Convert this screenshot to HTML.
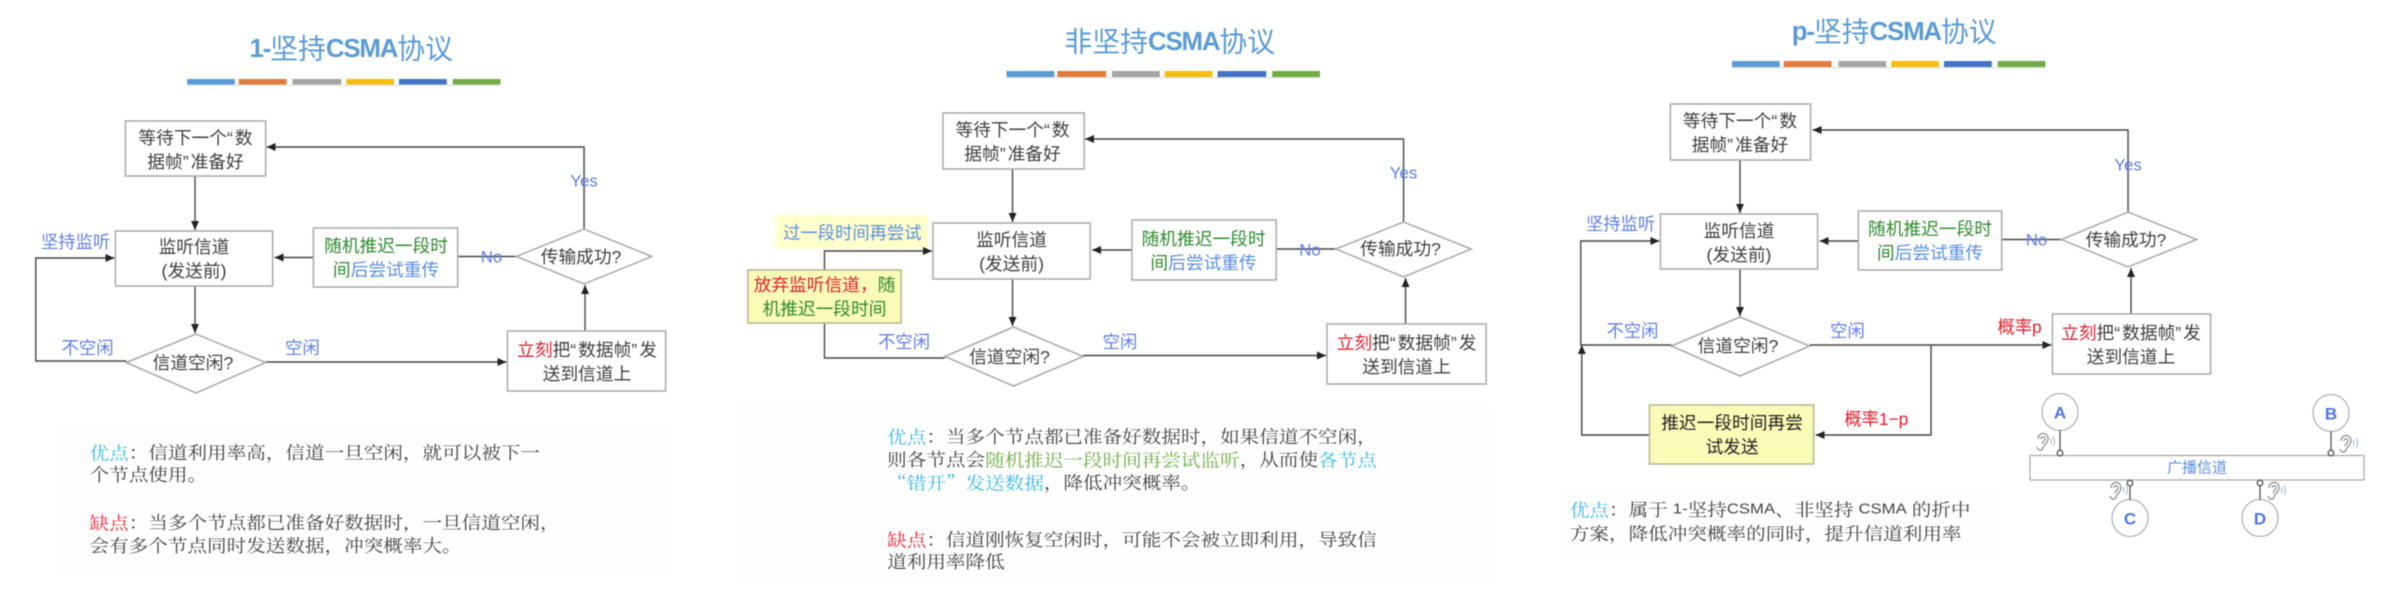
<!DOCTYPE html>
<html lang="zh"><head><meta charset="utf-8"><title>CSMA</title>
<style>
html,body{margin:0;padding:0;background:#fff;width:2407px;height:616px;overflow:hidden}
svg{display:block;filter:blur(.45px)}
text{font-family:"Liberation Sans","Noto Sans CJK SC",sans-serif;dominant-baseline:central}
.t{font-size:17.8px;fill:#3f3f3f;text-anchor:middle}
.q{letter-spacing:2px}
.l{font-size:17.4px;fill:#5f7fe6;text-anchor:middle}
.e{font-size:17px;fill:#5f7fe6;text-anchor:middle}
.r{font-size:17.4px;fill:#e0202c;text-anchor:middle}
.h{font-size:28px;fill:#5b9bd5;text-anchor:middle}
.h tspan{font-weight:bold;font-size:26px;letter-spacing:-1.2px}
.p{font-family:"Noto Serif CJK SC","Liberation Serif",serif;font-size:19.7px;fill:#444}
.p .s{font-family:"Liberation Sans",sans-serif;font-size:16.8px}
.b{fill:#fff;stroke:#a9a9a9;stroke-width:1.5}
.y{fill:#fbfbb8;stroke:#b5b58c;stroke-width:1.5}
.c{fill:none;stroke:#444;stroke-width:1.4}
.g{fill:#2f8a2f}.u{fill:#5b8fe0}.d{fill:#dc2433}
.cy{fill:#3db8ea}.rd{fill:#ee2c3c}.gr{fill:#70ad47}
.n{font-size:17px;font-weight:bold;fill:#4f74ee;text-anchor:middle}
</style></head><body>
<svg width="2407" height="616" viewBox="0 0 2407 616" xmlns="http://www.w3.org/2000/svg">
<defs>
<marker id="a" markerUnits="userSpaceOnUse" markerWidth="10" markerHeight="10" refX="9" refY="5" orient="auto"><path d="M0,1 L9,5 L0,9 Z" fill="#222"/></marker>
<g id="ear"><path d="M-4,-2 C-4,-9 6,-10 6,-2 C6,2 2,3 1,7 C0,10 -4,10 -5,6 M-1,-2 C-1,-5 3,-5 3,-2 C3,0 0,1 0,3" fill="none" stroke="#8a8a8a" stroke-width="1.2"/><path d="M8,-3 Q10,0 8,3 M11,-5 Q14,0 11,5" fill="none" stroke="#9db4c8" stroke-width="1"/></g>
</defs>
<rect width="2407" height="616" fill="#fff"/>
<rect x="60" y="425" width="610" height="150" fill="#fefefe"/>
<rect x="735" y="405" width="760" height="175" fill="#fefefe"/>
<rect x="1560" y="490" width="440" height="65" fill="#fefefe"/>

<!-- Panel 1 -->
<g transform="scale(.995,1)">
<text class="h" x="353" y="49"><tspan>1-</tspan>坚持<tspan>CSMA</tspan>协议</text>
<g>
<rect x="188" y="79" width="48" height="5.5" fill="#5b9bd5"/><rect x="240" y="79" width="48" height="5.5" fill="#e07b39"/><rect x="294" y="79" width="49" height="5.5" fill="#a5a5a5"/><rect x="348" y="79" width="48" height="5.5" fill="#f5bd10"/><rect x="401" y="79" width="48" height="5.5" fill="#4472c4"/><rect x="455" y="79" width="48" height="5.5" fill="#70ad47"/>
<rect x="188" y="84.5" width="315" height="1.5" fill="#e4e4e4"/>
</g>
<path class="c" d="M196,176 V230" marker-end="url(#a)"/>
<path class="c" d="M196,286 V333" marker-end="url(#a)"/>
<path class="c" d="M587,229 V147 H268" marker-end="url(#a)"/>
<path class="c" d="M127,361 H36 V258 H115" marker-end="url(#a)"/>
<path class="c" d="M267,362 H509" marker-end="url(#a)"/>
<path class="c" d="M588,331 V285" marker-end="url(#a)"/>
<path class="c" d="M315,257.5 H276" marker-end="url(#a)"/>
<path class="c" d="M460,256.5 H519"/>
<rect class="b" x="126" y="121" width="141" height="55"/>
<rect class="b" x="116" y="231" width="158" height="55"/>
<rect class="b" x="315" y="228" width="145" height="59"/>
<rect class="b" x="510" y="331" width="159" height="60"/>
<polygon class="b" points="519,256.5 587,229 655,256.5 587,284"/>
<polygon class="b" points="127,362.5 197,334 267,362.5 197,393"/>
<text class="t" x="196.5" y="138">等待下一个<tspan class="q">“</tspan>数</text><text class="t" x="196.5" y="162">据帧<tspan class="q">”</tspan>准备好</text>
<text class="t" x="195" y="247">监听信道</text><text class="t" x="195" y="271">(发送前)</text>
<text class="t g" x="388" y="246">随机推迟一段时</text><text class="t g" x="388" y="270">间<tspan class="u">后尝试重传</tspan></text>
<text class="t" x="590" y="350"><tspan class="d">立刻</tspan>把<tspan class="q">“</tspan>数据帧<tspan class="q">”</tspan>发</text><text class="t" x="590" y="374">送到信道上</text>
<text class="t" x="584" y="257">传输成功?</text>
<text class="t" x="194" y="363">信道空闲?</text>
<text class="l" x="76" y="242">坚持监听</text>
<text class="l" x="88" y="348">不空闲</text>
<text class="l" x="304" y="348">空闲</text>
<text class="e" x="494" y="257">No</text>
<text class="e" x="587" y="181">Yes</text>
<text class="p" transform="translate(90,452) scale(1,.9)"><tspan class="cy">优点</tspan>：信道利用率高，信道一旦空闲，就可以被下一</text>
<text class="p" transform="translate(90,474) scale(1,.9)">个节点使用。</text>
<text class="p" transform="translate(90,522) scale(1,.9)"><tspan class="rd">缺点</tspan>：当多个节点都已准备好数据时，一旦信道空闲，</text>
<text class="p" transform="translate(90,545) scale(1,.9)">会有多个节点同时发送数据，冲突概率大。</text>
</g>

<!-- Panel 2 -->
<g transform="translate(720,0) scale(.995,1) translate(-720,0)">
<text class="h" x="1172" y="42">非坚持<tspan>CSMA</tspan>协议</text>
<g>
<rect x="1008" y="71" width="48" height="6" fill="#5b9bd5"/><rect x="1059" y="71" width="49" height="6" fill="#e07b39"/><rect x="1114" y="71" width="48" height="6" fill="#a5a5a5"/><rect x="1167" y="71" width="48" height="6" fill="#f5bd10"/><rect x="1220" y="71" width="49" height="6" fill="#4472c4"/><rect x="1275" y="71" width="48" height="6" fill="#70ad47"/>
<rect x="1008" y="77" width="315" height="1.5" fill="#e4e4e4"/>
</g>
<rect x="776" y="215" width="153" height="34" fill="#ffffcc"/>
<path class="c" d="M1014,169 V222" marker-end="url(#a)"/>
<path class="c" d="M1014,279 V326" marker-end="url(#a)"/>
<path class="c" d="M1407,222 V139 H1087" marker-end="url(#a)"/>
<path class="c" d="M825,270 V251 H933" marker-end="url(#a)"/>
<path class="c" d="M825,323 V358 H946"/>
<path class="c" d="M1085,355.5 H1329" marker-end="url(#a)"/>
<path class="c" d="M1409,324 V278" marker-end="url(#a)"/>
<path class="c" d="M1134,250 H1094" marker-end="url(#a)"/>
<path class="c" d="M1279,249 H1339"/>
<rect class="b" x="944" y="113" width="142" height="56"/>
<rect class="b" x="934" y="223" width="158" height="56"/>
<rect class="b" x="1134" y="220" width="145" height="60"/>
<rect class="b" x="1330" y="324" width="160" height="60"/>
<rect class="y" x="748" y="270" width="154" height="53"/>
<polygon class="b" points="1339,249 1407,222 1475,249 1407,277"/>
<polygon class="b" points="946,356.5 1015,327 1085,356.5 1015,386"/>
<text class="t" x="1014" y="130">等待下一个<tspan class="q">“</tspan>数</text><text class="t" x="1014" y="154">据帧<tspan class="q">”</tspan>准备好</text>
<text class="t" x="1013" y="240">监听信道</text><text class="t" x="1013" y="264">(发送前)</text>
<text class="t g" x="1206" y="239">随机推迟一段时</text><text class="t g" x="1206" y="263">间<tspan class="u">后尝试重传</tspan></text>
<text class="t" x="1410" y="343"><tspan class="d">立刻</tspan>把<tspan class="q">“</tspan>数据帧<tspan class="q">”</tspan>发</text><text class="t" x="1410" y="367">送到信道上</text>
<text class="t" x="1404" y="249">传输成功?</text>
<text class="t" x="1011" y="357">信道空闲?</text>
<text class="t d" x="825" y="285">放弃监听信道，<tspan class="g">随</tspan></text>
<text class="t g" x="825" y="309">机推迟一段时间</text>
<text class="l" x="853" y="233" style="fill:#5b8fe0">过一段时间再尝试</text>
<text class="l" x="905" y="342">不空闲</text>
<text class="l" x="1122" y="342">空闲</text>
<text class="e" x="1313" y="250">No</text>
<text class="e" x="1407" y="173">Yes</text>
<text class="p" transform="translate(888,436) scale(1,.9)"><tspan class="cy">优点</tspan>：当多个节点都已准备好数据时，如果信道不空闲，</text>
<text class="p" transform="translate(888,459) scale(1,.9)">则各节点会<tspan class="gr">随机推迟一段时间再尝试监听</tspan>，从而使<tspan class="cy">各节点</tspan></text>
<text class="p" transform="translate(888,482) scale(1,.9)"><tspan class="cy">“错开”发送数据</tspan>，降低冲突概率。</text>
<text class="p" transform="translate(888,539) scale(1,.9)"><tspan class="rd">缺点</tspan>：信道刚恢复空闲时，可能不会被立即利用，导致信</text>
<text class="p" transform="translate(888,561) scale(1,.9)">道利用率降低</text>
</g>

<!-- Panel 3 -->
<g transform="translate(1540,0) scale(.995,1) translate(-1540,0)">
<text class="h" x="1896" y="32"><tspan>p-</tspan>坚持<tspan>CSMA</tspan>协议</text>
<g>
<rect x="1733" y="61" width="48" height="6" fill="#5b9bd5"/><rect x="1785" y="61" width="48" height="6" fill="#e07b39"/><rect x="1840" y="61" width="48" height="6" fill="#a5a5a5"/><rect x="1893" y="61" width="48" height="6" fill="#f5bd10"/><rect x="1946" y="61" width="48" height="6" fill="#4472c4"/><rect x="2000" y="61" width="48" height="6" fill="#70ad47"/>
<rect x="1733" y="67" width="315" height="1.5" fill="#e4e4e4"/>
</g>
<path class="c" d="M1741,160 V213" marker-end="url(#a)"/>
<path class="c" d="M1741,269 V316" marker-end="url(#a)"/>
<path class="c" d="M2131,212 V130 H1814" marker-end="url(#a)"/>
<path class="c" d="M1672,345 H1581 V241 H1660" marker-end="url(#a)"/>
<path class="c" d="M1650,435 H1582 V345" marker-end="url(#a)"/>
<path class="c" d="M1811,345 H2054" marker-end="url(#a)"/>
<path class="c" d="M1933,345 V435 H1817" marker-end="url(#a)"/>
<path class="c" d="M2134,314 V268" marker-end="url(#a)"/>
<path class="c" d="M1860,241 H1821" marker-end="url(#a)"/>
<path class="c" d="M2004,239.5 H2064"/>
<rect class="b" x="1671" y="104" width="141" height="56"/>
<rect class="b" x="1661" y="214" width="158" height="55"/>
<rect class="b" x="1860" y="211" width="144" height="59"/>
<rect class="b" x="2055" y="314" width="159" height="60"/>
<rect class="y" x="1650" y="405" width="165" height="59"/>
<polygon class="b" points="2064,239.5 2131,212 2200,239.5 2131,267"/>
<polygon class="b" points="1672,346 1741,317 1811,346 1741,376"/>
<text class="t" x="1741" y="121">等待下一个<tspan class="q">“</tspan>数</text><text class="t" x="1741" y="145">据帧<tspan class="q">”</tspan>准备好</text>
<text class="t" x="1740" y="231">监听信道</text><text class="t" x="1740" y="255">(发送前)</text>
<text class="t g" x="1932" y="229">随机推迟一段时</text><text class="t g" x="1932" y="253">间<tspan class="u">后尝试重传</tspan></text>
<text class="t" x="2134" y="333"><tspan class="d">立刻</tspan>把<tspan class="q">“</tspan>数据帧<tspan class="q">”</tspan>发</text><text class="t" x="2134" y="357">送到信道上</text>
<text class="t" x="2129" y="240">传输成功?</text>
<text class="t" x="1739" y="346">信道空闲?</text>
<text class="t" x="1733" y="423" style="fill:#222">推迟一段时间再尝</text><text class="t" x="1733" y="447" style="fill:#222">试发送</text>
<text class="l" x="1621" y="224">坚持监听</text>
<text class="l" x="1633" y="331">不空闲</text>
<text class="l" x="1849" y="331">空闲</text>
<text class="r" x="2022" y="327">概率p</text>
<text class="r" x="1878" y="419">概率1−p</text>
<text class="e" x="2039" y="240">No</text>
<text class="e" x="2131" y="165">Yes</text>
<text class="p" transform="translate(1570,509) scale(1,.9)"><tspan class="cy">优点</tspan>：属于 <tspan class="s">1-</tspan>坚持<tspan class="s">CSMA</tspan>、非坚持 <tspan class="s">CSMA</tspan> 的折中</text>
<text class="p" transform="translate(1570,533) scale(1,.9)">方案，降低冲突概率的同时，提升信道利用率</text>
</g>

<!-- broadcast channel -->
<rect x="2030" y="455.5" width="334" height="24.5" fill="#fff" stroke="#a9a4a8" stroke-width="1.2"/>
<text x="2197" y="468" font-size="15" fill="#5b8fe6" text-anchor="middle">广播信道</text>
<g fill="#fff" stroke="#a5a5a5" stroke-width="1.1">
<ellipse cx="2060" cy="412" rx="18" ry="18.5"/><ellipse cx="2331" cy="413" rx="18" ry="18.5"/><ellipse cx="2130" cy="518" rx="18" ry="18.5"/><ellipse cx="2260" cy="518" rx="18" ry="18.5"/>
</g>
<g stroke="#555" stroke-width="1.3">
<path d="M2060,430 V450 M2331,431 V450 M2130,486 V500 M2260,486 V500"/>
<g fill="#fff"><circle cx="2060" cy="453" r="2.8"/><circle cx="2331" cy="453" r="2.8"/><circle cx="2130" cy="483" r="2.8"/><circle cx="2260" cy="483" r="2.8"/></g>
</g>
<text class="n" x="2060" y="413">A</text><text class="n" x="2331" y="414">B</text><text class="n" x="2130" y="519">C</text><text class="n" x="2260" y="519">D</text>
<use href="#ear" x="2042" y="441"/><use href="#ear" x="2115" y="490"/><use href="#ear" x="2273" y="490"/><use href="#ear" x="2345" y="443"/>
</svg>
</body></html>
